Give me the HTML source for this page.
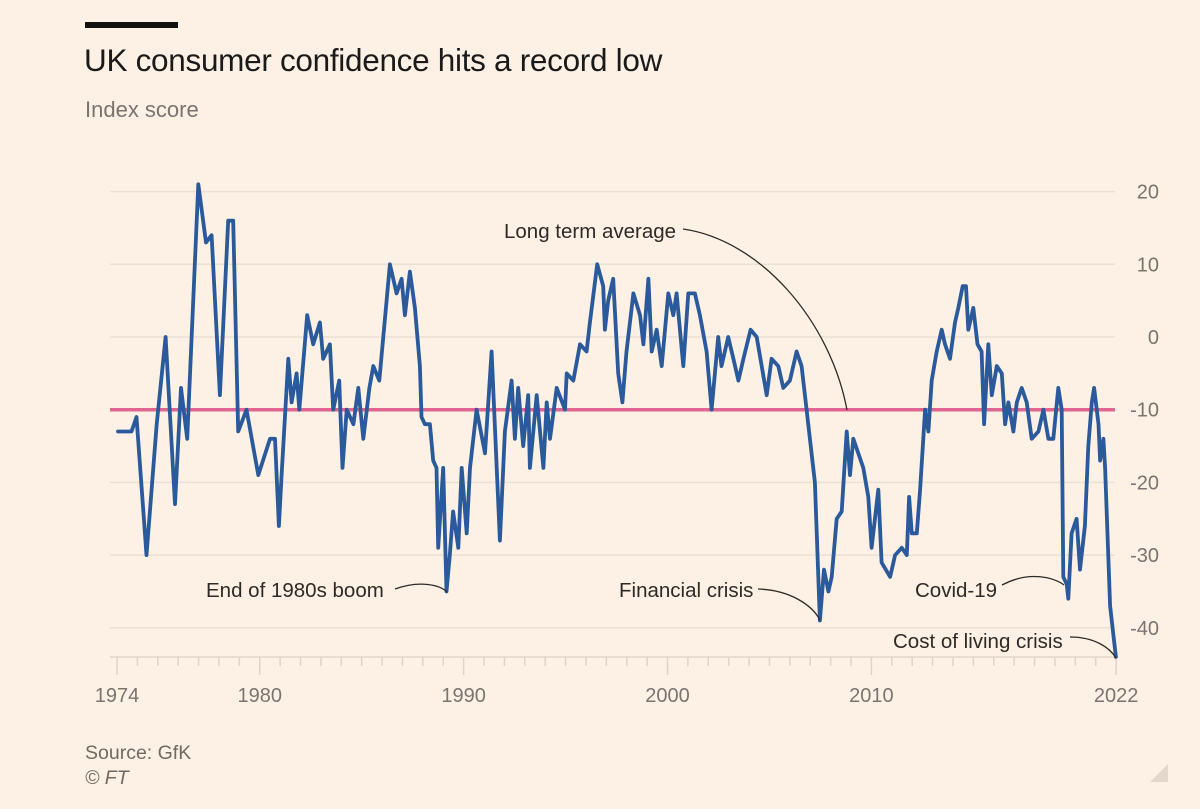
<!DOCTYPE html>
<html><head><meta charset="utf-8">
<style>
html,body{margin:0;padding:0;background:#fdf1e5;}
body{width:1200px;height:809px;overflow:hidden;position:relative;font-family:"Liberation Sans",sans-serif;}
#bar{position:absolute;left:85px;top:22px;width:93px;height:6px;background:#111;}
#title{position:absolute;left:84px;top:42px;font-size:31.5px;color:#1a1a1a;letter-spacing:-0.3px;}
#sub{position:absolute;left:85px;top:97px;font-size:22px;color:#7a7470;}
#src{position:absolute;left:85px;top:742px;font-size:19.5px;color:#6f6964;}
#ft{position:absolute;left:85px;top:767px;font-size:19.5px;color:#6f6964;font-style:italic;}
svg{position:absolute;left:0;top:0;}
</style></head><body>
<div id="bar"></div>
<div id="title">UK consumer confidence hits a record low</div>
<div id="sub">Index score</div>
<div id="src">Source: GfK</div>
<div id="ft">© FT</div>
<svg id="chart" width="1200" height="809">
<polygon points="1150,782 1168,782 1168,764" fill="#e4d8cc"></polygon>
</svg>
<script>
const years = [1974.0,1974.65,1974.89,1975.37,1975.86,1976.29,1976.74,1977.03,1977.33,1977.86,1978.23,1978.50,1978.90,1979.30,1979.54,1979.78,1980.18,1980.75,1981.31,1981.55,1981.74,1981.87,1982.19,1982.35,1982.59,1982.72,1983.10,1983.39,1983.71,1983.87,1984.19,1984.35,1984.64,1984.80,1985.00,1985.32,1985.56,1985.80,1986.09,1986.28,1986.57,1987.08,1987.40,1987.64,1987.80,1988.04,1988.28,1988.52,1988.60,1988.76,1989.00,1989.16,1989.32,1989.40,1989.64,1989.80,1989.96,1990.12,1990.37,1990.53,1990.77,1990.93,1991.25,1991.65,1991.97,1992.37,1992.61,1992.93,1993.09,1993.25,1993.49,1993.73,1993.81,1994.14,1994.46,1994.62,1994.78,1995.10,1995.50,1995.58,1995.90,1996.22,1996.54,1996.70,1997.05,1997.34,1997.42,1997.58,1997.82,1998.06,1998.26,1998.46,1998.79,1999.11,1999.27,1999.51,1999.67,1999.91,2000.15,2000.47,2000.71,2000.87,2001.19,2001.43,2001.75,2001.99,2002.31,2002.55,2002.87,2003.03,2003.35,2003.60,2003.84,2004.08,2004.43,2004.72,2005.20,2005.44,2005.76,2006.00,2006.32,2006.64,2006.88,2007.12,2007.28,2007.52,2007.76,2007.96,2008.17,2008.33,2008.57,2008.81,2009.05,2009.21,2009.37,2009.85,2010.09,2010.25,2010.57,2010.73,2011.14,2011.38,2011.70,2011.94,2012.05,2012.18,2012.42,2012.58,2012.82,2012.98,2013.14,2013.38,2013.62,2013.78,2014.02,2014.26,2014.42,2014.63,2014.79,2014.90,2015.14,2015.34,2015.54,2015.66,2015.86,2016.03,2016.27,2016.51,2016.67,2016.83,2017.07,2017.23,2017.47,2017.71,2017.95,2018.27,2018.51,2018.75,2018.99,2019.23,2019.39,2019.47,2019.63,2019.71,2019.87,2020.11,2020.27,2020.51,2020.67,2020.84,2020.95,2021.16,2021.24,2021.40,2021.48,2021.72,2021.88,2022.0];
const values = [-13,-13,-11,-30,-12,0,-23,-7,-14,21,13,14,-8,16,16,-13,-10,-19,-14,-14,-26,-19,-3,-9,-5,-10,3,-1,2,-3,-1,-10,-6,-18,-10,-12,-7,-14,-7,-4,-6,10,6,8,3,9,4,-4,-11,-12,-12,-17,-18,-29,-18,-35,-30,-24,-29,-18,-27,-18,-10,-16,-2,-28,-13,-6,-14,-7,-15,-8,-18,-8,-18,-9,-14,-7,-10,-5,-6,-1,-2,2,10,7,1,5,8,-5,-9,-2,6,3,-1,8,-2,1,-4,6,3,6,-4,6,6,3,-2,-10,0,-4,0,-3,-6,-3,1,0,-8,-3,-4,-7,-6,-2,-4,-10,-14,-20,-39,-32,-35,-33,-25,-24,-13,-19,-14,-18,-22,-29,-21,-31,-33,-30,-29,-30,-22,-27,-27,-21,-10,-13,-6,-2,1,-1,-3,2,4,7,7,1,4,-1,-2,-12,-1,-8,-4,-5,-12,-9,-13,-9,-7,-9,-14,-13,-10,-14,-14,-7,-10,-33,-34,-36,-27,-25,-32,-26,-15,-9,-7,-12,-17,-14,-18,-37,-41,-44];
const averageValue = -10;
const yTicks = [20,10,0,-10,-20,-30,-40];
const xLabelYears = [1974,1980,1990,2000,2010,2022];
const annotations = ["Long term average","End of 1980s boom","Financial crisis","Covid-19","Cost of living crisis"];

const NS="http://www.w3.org/2000/svg";
const svg=document.getElementById('chart');
function xScale(y){return 117+(y-1973)*20.39;}
function xData(t){return xScale(1973.05+(t-1974)*1.0196);}
function yScale(v){return 337-v*7.27;}
function mk(tag,attrs,parent){const e=document.createElementNS(NS,tag);for(const k in attrs)e.setAttribute(k,attrs[k]);(parent||svg).appendChild(e);return e;}

yTicks.forEach(v=>{
  const g=mk('line',{x1:110,x2:1115,y1:yScale(v),y2:yScale(v),stroke:'#ebe0d5','stroke-width':1.5});
  
  
  const t=mk('text',{x:1159,y:yScale(v)+7,'text-anchor':'end','font-size':20,fill:'#7a7470','font-family':'Liberation Sans, sans-serif'});
  t.textContent=String(v);
  
  
});
const ax=mk('line',{x1:110,x2:1118,y1:657,y2:657,stroke:'#e3d6ca','stroke-width':1.5});


for(let yr=1973;yr<=2022;yr++){
  const major=[1973,1980,1990,2000,2010,2022].includes(yr);
  const tk=mk('line',{x1:xScale(yr),x2:xScale(yr),y1:657,y2:major?675:666,stroke:'#e0d3c6','stroke-width':1.5});
  
  
}
xLabelYears.forEach(yr=>{
  const px = yr===1974 ? xScale(1973) : xScale(yr);
  const t=mk('text',{x:px,y:702,'text-anchor':'middle','font-size':20,fill:'#7a7470','font-family':'Liberation Sans, sans-serif'});
  t.textContent=String(yr);
  
  
});
const avg=mk('line',{x1:110,x2:1115,y1:yScale(averageValue),y2:yScale(averageValue),stroke:'#e06593','stroke-width':3.5});


let d='';
years.forEach((t,i)=>{d+=(i?'L':'M')+xData(t).toFixed(1)+','+yScale(values[i]).toFixed(1);});
const line=mk('path',{d:d,fill:'none',stroke:'#2a5a9c','stroke-width':3.8,'stroke-linejoin':'round','stroke-linecap':'round'});


const ann=[
 {t:annotations[0],x:504,y:238,p:'M683,229 C760,240 830,320 847,410'},
 {t:annotations[1],x:206,y:597,p:'M395,589 C420,580 440,585 447,592'},
 {t:annotations[2],x:619,y:597,p:'M758,589 C790,590 812,605 820,620'},
 {t:annotations[3],x:915,y:597,p:'M1002,585 C1030,570 1055,578 1064,585'},
 {t:annotations[4],x:893,y:648,p:'M1070,637 C1095,637 1110,648 1116,658'}
];
ann.forEach(a=>{
  const t=mk('text',{x:a.x,y:a.y,'font-size':20.5,fill:'#2e2a27','font-family':'Liberation Sans, sans-serif'});
  t.textContent=a.t;
  
  
  const p=mk('path',{d:a.p,fill:'none',stroke:'#2e2a27','stroke-width':1.3});
  
  
});
</script>
</body></html>
